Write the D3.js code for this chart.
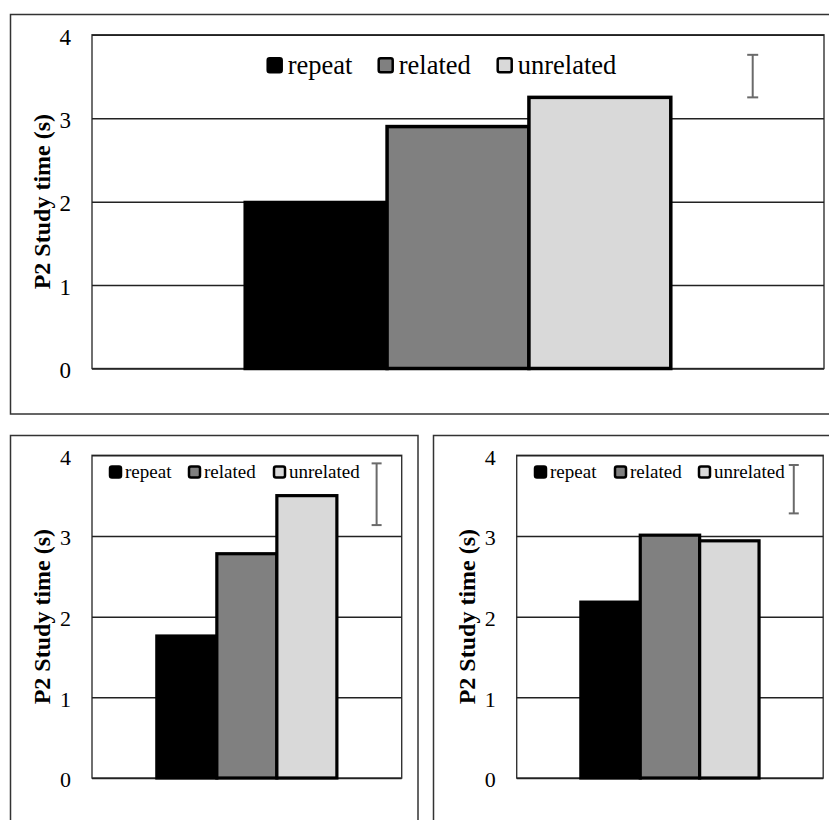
<!DOCTYPE html>
<html>
<head>
<meta charset="utf-8">
<script src="https://cdn.jsdelivr.net/npm/d3@7"></script>
<style>
  html, body { margin: 0; padding: 0; background: #ffffff; }
  svg { display: block; }
  text { font-family: "Liberation Serif", "Times New Roman", Times, serif; fill: #000; }
</style>
</head>
<body>
<svg id="chart" width="829" height="820"></svg>
<script>
// Conditions shown in every panel
const conditions = ["repeat", "related", "unrelated"];
const conditionFills = ["#000000", "#808080", "#d9d9d9"];

// Mean P2 study time (s) per condition, one array per panel
const studyTimeAll = [1.99, 2.90, 3.25];
const studyTimeLeft = [1.76, 2.78, 3.50];
const studyTimeRight = [2.18, 3.01, 2.94];

// Representative error bar extent (s) per panel: [low, high]
const errorBarAll = [3.25, 3.76];
const errorBarLeft = [3.135, 3.90];
const errorBarRight = [3.28, 3.88];

// Y axis
const yTicks = [0, 1, 2, 3, 4];
const yDomain = [0, 4];
const yTitle = "P2 Study time (s)";

const svg = d3.select("#chart");

// Panel layout
const panels = [
  {
    values: studyTimeAll, err: errorBarAll,
    box: { x: 10.5, y: 14.5, w: 900, h: 399.5 },
    plot: { x: 92, y: 34.8, w: 732, h: 333.7 },
    legend: { xs: [174.7, 285.7, 404.7], sq: 16, cy: 30.5, base: 39.5, textDx: 21, size: 26.5 },
    errX: 0.9026, cap: 11, tickSize: 23, barStroke: 3.5
  },
  {
    values: studyTimeLeft, err: errorBarLeft,
    box: { x: 10.5, y: 435.5, w: 407.5, h: 500 },
    plot: { x: 92, y: 455.3, w: 309.7, h: 322.7 },
    legend: { xs: [17, 96, 181], sq: 13, cy: 16.8, base: 23, textDx: 16, size: 19 },
    errX: 0.919, cap: 10, tickSize: 22, barStroke: 3.2
  },
  {
    values: studyTimeRight, err: errorBarRight,
    box: { x: 433.5, y: 435.5, w: 500, h: 500 },
    plot: { x: 516.7, y: 455.3, w: 306.5, h: 322.7 },
    legend: { xs: [17.3, 97.3, 181.3], sq: 13, cy: 16.8, base: 23, textDx: 16, size: 19 },
    errX: 0.904, cap: 10, tickSize: 22, barStroke: 3.2
  }
];

panels.forEach(p => {
  // Outer frame
  svg.append("rect")
    .attr("x", p.box.x).attr("y", p.box.y)
    .attr("width", p.box.w).attr("height", p.box.h)
    .attr("fill", "none").attr("stroke", "#333").attr("stroke-width", 1.5);

  const g = svg.append("g").attr("transform", `translate(${p.plot.x},${p.plot.y})`);
  const W = p.plot.w, H = p.plot.h;

  const y = d3.scaleLinear().domain(yDomain).range([H, 0]);
  const x0 = d3.scaleBand().domain(["P2"]).range([0, W]).paddingInner(0).paddingOuter(0.36);
  const x1 = d3.scaleBand().domain(conditions).range([0, x0.bandwidth()]).padding(0);

  // Plot area border
  g.append("rect").attr("x", 0).attr("y", 0).attr("width", W).attr("height", H)
    .attr("fill", "none").attr("stroke", "#333").attr("stroke-width", 1.4);

  // Horizontal gridlines
  const grid = g.append("g").call(d3.axisLeft(y).tickValues(yTicks).tickSize(-W).tickFormat(""));
  grid.select(".domain").remove();
  grid.selectAll("line").attr("stroke", "#222").attr("stroke-width", 1.5);

  // Tick labels
  const axis = g.append("g").call(d3.axisLeft(y).tickValues(yTicks).tickSize(0).tickPadding(21).tickFormat(d3.format("d")));
  axis.select(".domain").remove();
  axis.selectAll("text")
    .attr("font-family", "'Liberation Serif', 'Times New Roman', serif")
    .attr("font-size", p.tickSize).attr("fill", "#000")
    .attr("dy", "0.4em");

  // Axis title
  g.append("text")
    .attr("transform", `translate(-50,${H / 2}) rotate(-90)`)
    .attr("text-anchor", "middle").attr("dominant-baseline", "central")
    .attr("font-size", 24).attr("font-weight", "bold")
    .text(yTitle);

  // Bars
  const barData = conditions.map((c, i) => ({ c, v: p.values[i], fill: conditionFills[i] }));
  g.append("g").selectAll("rect").data(barData).join("rect")
    .attr("x", d => x0("P2") + x1(d.c))
    .attr("y", d => y(d.v))
    .attr("width", x1.bandwidth())
    .attr("height", d => y(0) - y(d.v))
    .attr("fill", d => d.fill)
    .attr("stroke", "#000").attr("stroke-width", p.barStroke);

  // Error bar
  const ex = W * p.errX;
  const eb = g.append("g").attr("stroke", "#6a6a6a").attr("stroke-width", 2);
  eb.append("line").attr("x1", ex).attr("x2", ex).attr("y1", y(p.err[0])).attr("y2", y(p.err[1]));
  p.err.forEach(v => eb.append("line")
    .attr("x1", ex - p.cap / 2).attr("x2", ex + p.cap / 2)
    .attr("y1", y(v)).attr("y2", y(v)));

  // Legend
  const L = p.legend;
  const leg = g.append("g").selectAll("g").data(barData).join("g")
    .attr("transform", (d, i) => `translate(${L.xs[i]},0)`);
  leg.append("rect")
    .attr("x", 1).attr("y", L.cy - L.sq / 2 + 1)
    .attr("width", L.sq - 2).attr("height", L.sq - 2)
    .attr("rx", 2).attr("fill", d => d.fill)
    .attr("stroke", "#000").attr("stroke-width", 2.5);
  leg.append("text")
    .attr("x", L.textDx).attr("y", L.base)
    .attr("font-size", L.size)
    .text(d => d.c);
});
</script>
</body>
</html>
